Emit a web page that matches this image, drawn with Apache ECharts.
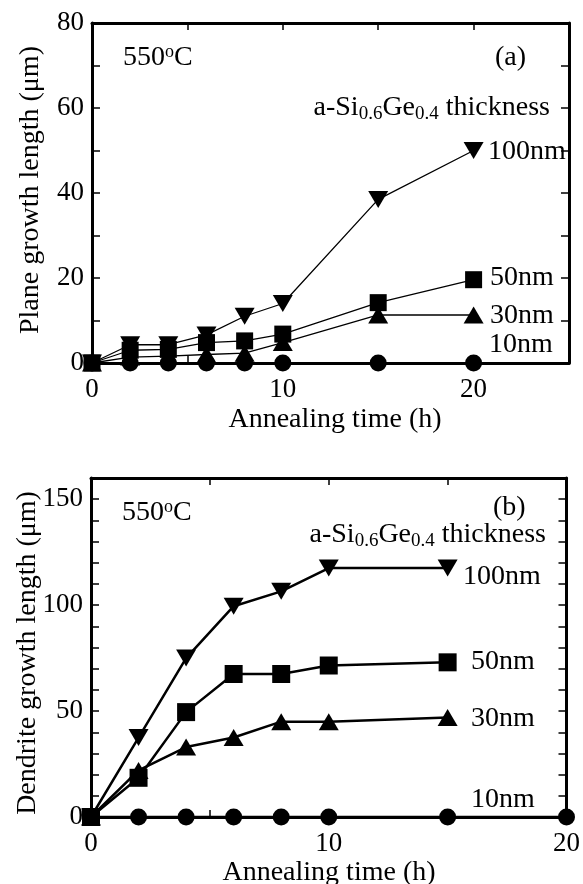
<!DOCTYPE html>
<html>
<head>
<meta charset="utf-8">
<style>html,body{margin:0;padding:0;background:#fff;}#c{width:583px;height:884px;}</style>
<script src="https://cdn.jsdelivr.net/npm/echarts@6/dist/echarts.min.js"></script>
</head>
<body>
<div id="c"></div>
<script>
// Panel (a): plane growth length
var timesA = [0, 2, 4, 6, 8, 10, 15, 20];
var planeA100 = [0, 4.3, 4.3, 6.6, 11, 14, 38.5, 50];
var planeA50 = [0, 3, 3.2, 4.8, 5.2, 6.8, 14.2, 19.6];
var planeA30 = [0, 1.4, 1.6, 2, 2.3, 4.8, 11.3, 11.3];
var planeA10 = [0, 0, 0, 0, 0, 0, 0, 0];
// Panel (b): dendrite growth length
var timesB = [0, 2, 4, 6, 8, 10, 15];
var timesB10 = [0, 2, 4, 6, 8, 10, 15, 20];
var dendB100 = [0, 37.5, 75, 99.5, 106.5, 117.5, 117.5];
var dendB50 = [0, 18.5, 49.5, 67.5, 67.5, 71.5, 73];
var dendB30 = [0, 22, 33, 37.5, 45, 45, 47];
var dendB10 = [0, 0, 0, 0, 0, 0, 0, 0];
var seriesNames = ['100nm', '50nm', '30nm', '10nm'];

function pairs(xs, ys) { return xs.map(function (x, i) { return [x, ys[i]]; }); }

var FONT = '"Liberation Serif", "DejaVu Serif", serif';
var chart = echarts.init(document.getElementById('c'));

function xAx(grid, max, pos, show) {
  return {
    type: 'value', gridIndex: grid, min: 0, max: max, interval: 5, position: pos,
    axisLine: { show: true, onZero: false, lineStyle: { color: '#000', width: 3 } },
    axisTick: { show: true, inside: true, length: 7, lineStyle: { color: '#000', width: 1.5 } },
    axisLabel: { show: show, color: '#000', fontFamily: FONT, fontSize: 27, margin: 13,
      formatter: function (v) { return v % 10 === 0 ? String(v) : ''; } },
    splitLine: { show: false }
  };
}
function yAx(grid, max, interval, labelEvery, pos, show) {
  return {
    type: 'value', gridIndex: grid, min: 0, max: max, interval: interval, position: pos,
    axisLine: { show: true, onZero: false, lineStyle: { color: '#000', width: 3 } },
    axisTick: { show: true, inside: true, length: 8, lineStyle: { color: '#000', width: 1.5 } },
    axisLabel: { show: show, color: '#000', fontFamily: FONT, fontSize: 27, margin: 8,
      formatter: function (v) { return v % labelEvery === 0 ? String(v) : ''; } },
    splitLine: { show: false }
  };
}

function ser(xi, yi, data, symbol, size, rot, lw) {
  return {
    type: 'line', xAxisIndex: xi, yAxisIndex: yi, data: data,
    symbol: symbol, symbolSize: size, symbolRotate: rot, showAllSymbol: true,
    itemStyle: { color: '#000' }, lineStyle: { color: '#000', width: lw },
    animation: false, z: 3
  };
}

function txt(left, top, text, extra) {
  var o = { type: 'text', left: left, top: top, style: { text: text, font: '27px ' + FONT, fill: '#000' } };
  if (extra) { for (var k in extra) o.style[k] = extra[k]; }
  return o;
}

var rich = {
  a: { fontFamily: FONT, fontSize: 28, color: '#000', lineHeight: 34 },
  s: { fontFamily: FONT, fontSize: 19, color: '#000', lineHeight: 34, padding: [13, 0, 0, 0] },
  o: { fontFamily: FONT, fontSize: 18, color: '#000', lineHeight: 34, padding: [0, 0, 12, 0] }
};

var option = {
  backgroundColor: '#fff',
  animation: false,
  grid: [
    { left: 92, top: 23, width: 477, height: 340 },
    { left: 91, top: 478, width: 476, height: 339 }
  ],
  xAxis: [
    xAx(0, 25, 'bottom', true), xAx(0, 25, 'top', false),
    xAx(1, 20, 'bottom', true), xAx(1, 20, 'top', false)
  ],
  yAxis: [
    yAx(0, 80, 10, 20, 'left', true), yAx(0, 80, 10, 20, 'right', false),
    yAx(1, 160, 10, 50, 'left', true), yAx(1, 160, 10, 50, 'right', false)
  ],
  series: [
    ser(0, 0, pairs(timesA, planeA10), 'circle', 17, 0, 1.3),
    ser(0, 0, pairs(timesA, planeA30), 'triangle', [20, 17], 0, 1.3),
    ser(0, 0, pairs(timesA, planeA50), 'rect', 17, 0, 1.3),
    ser(0, 0, pairs(timesA, planeA100), 'triangle', [20, 17], 180, 1.3),
    ser(2, 2, pairs(timesB10, dendB10), 'circle', 17, 0, 2.5),
    ser(2, 2, pairs(timesB, dendB30), 'triangle', [20, 17], 0, 2.5),
    ser(2, 2, pairs(timesB, dendB50), 'rect', 18, 0, 2.5),
    ser(2, 2, pairs(timesB, dendB100), 'triangle', [20, 17], 180, 2.5)
  ],
  graphic: [
    // axis names
    { type: 'text', x: 31, y: 190, rotation: Math.PI / 2,
      style: { text: 'Plane growth length (μm)', font: '28px ' + FONT, fill: '#000', align: 'center', verticalAlign: 'middle' } },
    { type: 'text', x: 28, y: 653, rotation: Math.PI / 2,
      style: { text: 'Dendrite growth length (μm)', font: '28px ' + FONT, fill: '#000', align: 'center', verticalAlign: 'middle' } },
    { type: 'text', x: 335, y: 420,
      style: { text: 'Annealing time (h)', font: '28px ' + FONT, fill: '#000', align: 'center', verticalAlign: 'middle' } },
    { type: 'text', x: 329, y: 873,
      style: { text: 'Annealing time (h)', font: '28px ' + FONT, fill: '#000', align: 'center', verticalAlign: 'middle' } },
    // panel (a) annotations
    { type: 'text', x: 123, y: 58, style: { text: '{a|550}{o|o}{a|C}', rich: rich, verticalAlign: 'middle' } },
    { type: 'text', x: 495, y: 58, style: { text: '(a)', font: '28px ' + FONT, fill: '#000', verticalAlign: 'middle' } },
    { type: 'text', x: 550, y: 108, style: { text: '{a|a-Si}{s|0.6}{a|Ge}{s|0.4}{a| thickness}', rich: rich, align: 'right', verticalAlign: 'middle' } },
    { type: 'text', x: 488, y: 152, style: { text: seriesNames[0], font: '28px ' + FONT, fill: '#000', verticalAlign: 'middle' } },
    { type: 'text', x: 490, y: 278, style: { text: seriesNames[1], font: '28px ' + FONT, fill: '#000', verticalAlign: 'middle' } },
    { type: 'text', x: 490, y: 316, style: { text: seriesNames[2], font: '28px ' + FONT, fill: '#000', verticalAlign: 'middle' } },
    { type: 'text', x: 489, y: 345, style: { text: seriesNames[3], font: '28px ' + FONT, fill: '#000', verticalAlign: 'middle' } },
    // panel (b) annotations
    { type: 'text', x: 122, y: 513, style: { text: '{a|550}{o|o}{a|C}', rich: rich, verticalAlign: 'middle' } },
    { type: 'text', x: 493, y: 508, style: { text: '(b)', font: '28px ' + FONT, fill: '#000', verticalAlign: 'middle' } },
    { type: 'text', x: 546, y: 535, style: { text: '{a|a-Si}{s|0.6}{a|Ge}{s|0.4}{a| thickness}', rich: rich, align: 'right', verticalAlign: 'middle' } },
    { type: 'text', x: 463, y: 577, style: { text: seriesNames[0], font: '28px ' + FONT, fill: '#000', verticalAlign: 'middle' } },
    { type: 'text', x: 471, y: 662, style: { text: seriesNames[1], font: '28px ' + FONT, fill: '#000', verticalAlign: 'middle' } },
    { type: 'text', x: 471, y: 719, style: { text: seriesNames[2], font: '28px ' + FONT, fill: '#000', verticalAlign: 'middle' } },
    { type: 'text', x: 471, y: 800, style: { text: seriesNames[3], font: '28px ' + FONT, fill: '#000', verticalAlign: 'middle' } }
  ]
};
chart.setOption(option);
</script>
</body>
</html>
